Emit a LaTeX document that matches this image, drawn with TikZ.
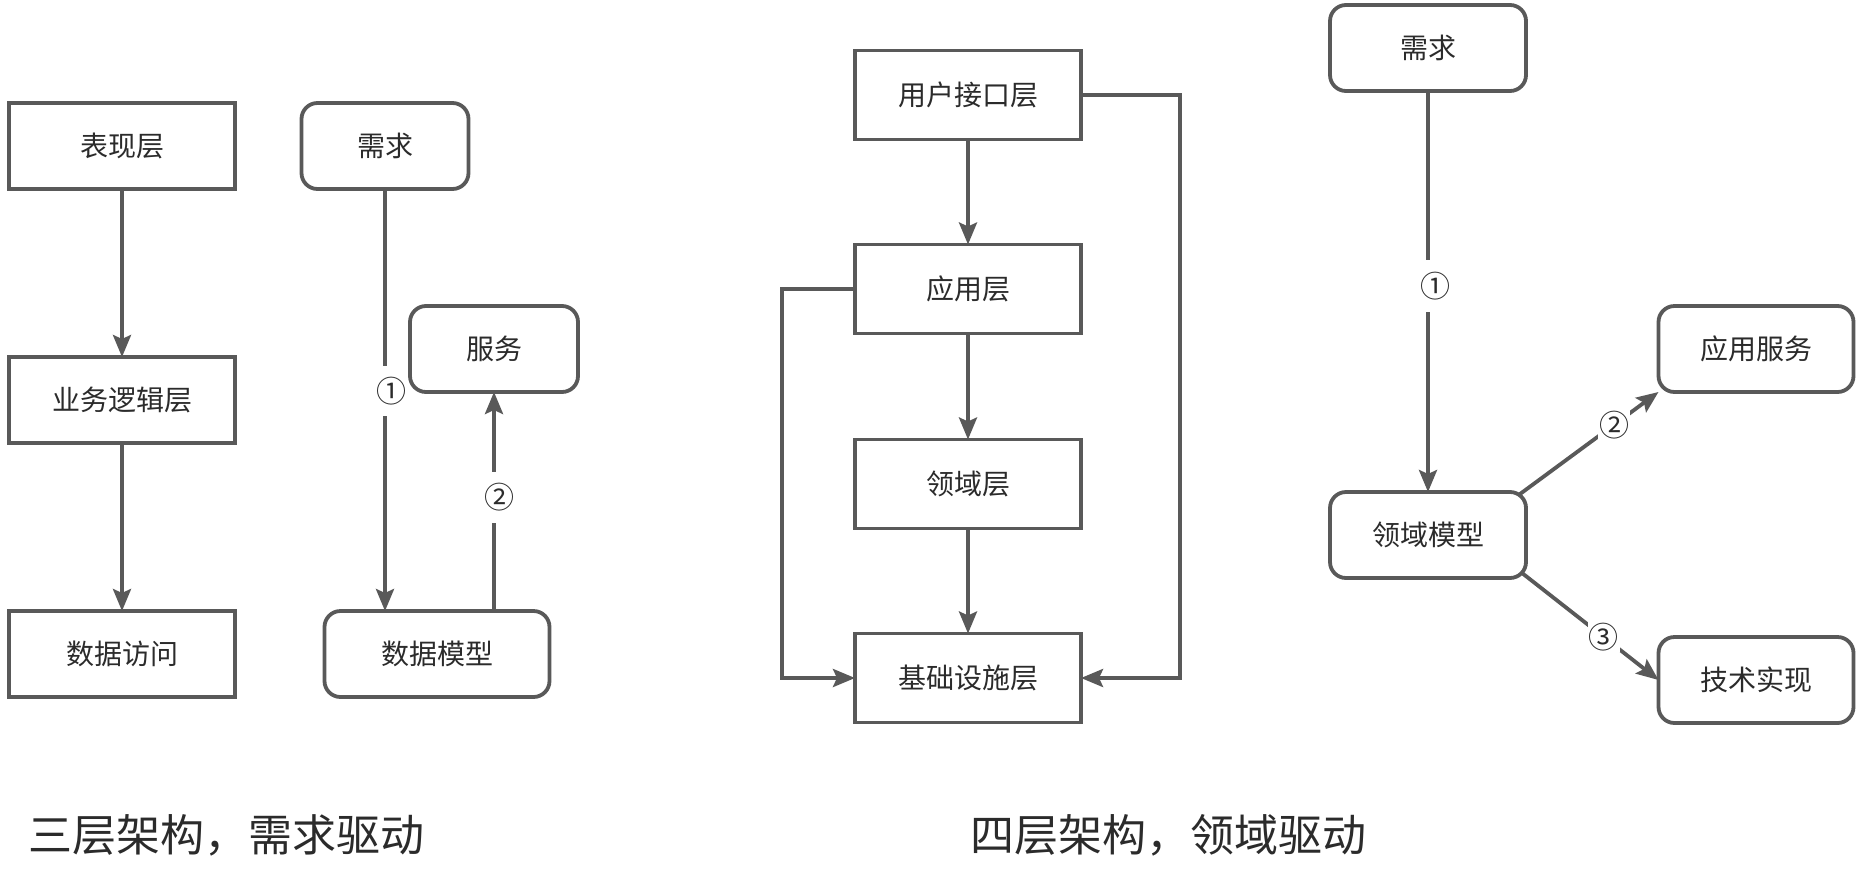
\documentclass[tikz,border=0pt]{standalone}
\usepackage{fontspec}
\setmainfont{Noto Sans CJK SC}
\usetikzlibrary{arrows.meta,calc}
\definecolor{ln}{HTML}{595959}
\definecolor{tx}{HTML}{2B2B2B}
\begin{document}
\begin{tikzpicture}[x=1pt,y=-1pt,
  box/.style={draw=ln,line width=3.8pt,fill=white,inner sep=0pt,outer sep=0pt,text=tx,
    font=\fontsize{28pt}{30pt}\selectfont},
  rbox/.style={box,rounded corners=16pt},
  conn/.style={draw=ln,line width=3.8pt},
  arr/.style={conn,-{Stealth[length=22pt,width=18pt,inset=4pt]}},
  num/.style={fill=white,inner sep=0pt,outer sep=0pt,minimum width=30pt,text=tx,
    font=\fontsize{30pt}{32pt}\selectfont},
  numd/.style={fill=white,inner sep=1pt,outer sep=0pt,text=tx,
    font=\fontsize{30pt}{32pt}\selectfont},
  title/.style={anchor=west,inner sep=0pt,text=tx,font=\fontsize{44pt}{46pt}\selectfont}]
\fill[white] (0,0) rectangle (1867,884);
\useasboundingbox (0,0) rectangle (1867,884);

% ---- left: three layers ----
\node[box,minimum width=226pt,minimum height=86pt] (pl) at (122,146) {表现层};
\node[box,minimum width=226pt,minimum height=86pt] (bl) at (122,400) {业务逻辑层};
\node[box,minimum width=226pt,minimum height=86pt] (da) at (122,654) {数据访问};
\draw[arr] (pl.south) -- (bl.north);
\draw[arr] (bl.south) -- (da.north);

\node[rbox,minimum width=167pt,minimum height=86pt] (reqL) at (385,146) {需求};
\node[rbox,minimum width=168pt,minimum height=86pt] (svc) at (494,349) {服务};
\node[rbox,minimum width=225pt,minimum height=86pt] (dm) at (437,654) {数据模型};

\node[num,minimum height=50pt] (n1) at (391,391) {①};
\draw[conn] (reqL.south) -- (reqL.south |- n1.north);
\draw[arr] (reqL.south |- n1.south) -- (reqL.south |- dm.north);

\node[num,minimum height=51pt] (n2) at (499,497) {②};
\draw[conn] (svc.south |- dm.north) -- (svc.south |- n2.south);
\draw[arr] (svc.south |- n2.north) -- (svc.south);

% ---- middle: four layers ----
\node[box,minimum width=226pt,minimum height=89pt] (ui) at (968,95) {用户接口层};
\node[box,minimum width=226pt,minimum height=89pt] (app) at (968,289) {应用层};
\node[box,minimum width=226pt,minimum height=89pt] (dom) at (968,484) {领域层};
\node[box,minimum width=226pt,minimum height=89pt] (inf) at (968,678) {基础设施层};
\draw[arr] (ui.south) -- (app.north);
\draw[arr] (app.south) -- (dom.north);
\draw[arr] (dom.south) -- (inf.north);
\draw[arr] (ui.east) -- ++(99,0) |- (inf.east);
\draw[arr] (app.west) -- ++(-73,0) |- (inf.west);

% ---- right: domain driven ----
\node[rbox,minimum width=196pt,minimum height=86pt] (reqR) at (1428,48) {需求};
\node[rbox,minimum width=196pt,minimum height=86pt] (dmod) at (1428,535) {领域模型};
\node[rbox,minimum width=195pt,minimum height=86pt] (asvc) at (1756,349) {应用服务};
\node[rbox,minimum width=195pt,minimum height=86pt] (tech) at (1756,680) {技术实现};

\node[num,minimum height=52pt] (m1) at (1435,286) {①};
\draw[conn] (reqR.south) -- (reqR.south |- m1.north);
\draw[arr] (reqR.south |- m1.south) -- (dmod.north);

\draw[arr] ($(dmod.north east)+(-6,2)$) -- node[numd,pos=0.68] (m2) {②} (asvc.south west);
\draw[arr] ($(dmod.south east)+(-4,-5)$) -- node[numd,pos=0.6] (m3) {③} (tech.west);

% ---- titles ----
\node[title] (t1) at (28,835) {三层架构，需求驱动};
\node[title] (t2) at (970,835) {四层架构，领域驱动};
\end{tikzpicture}
\end{document}
